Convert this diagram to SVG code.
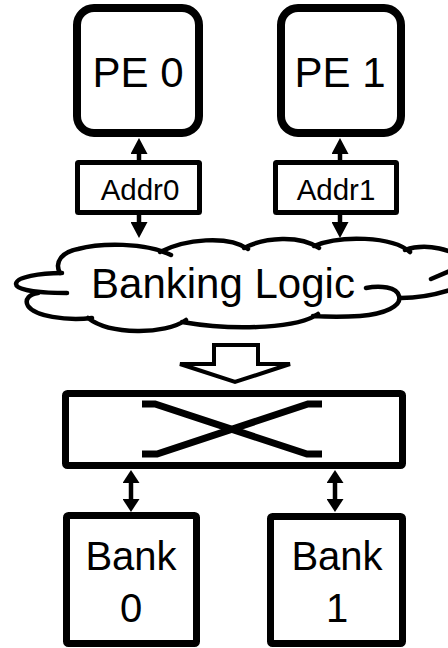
<svg xmlns="http://www.w3.org/2000/svg" width="448" height="648" viewBox="0 0 448 648">
  <style>
    text { font-family: "Liberation Sans", Arial, Helvetica, sans-serif; fill: #000; text-anchor: middle; }
    .box { fill: #fff; stroke: #000; }
    .wire { stroke: #000; fill: none; stroke-width: 4.5; }
    .cloud { fill: none; stroke: #000; stroke-width: 4.5; stroke-linecap: round; stroke-linejoin: round; }
  </style>
  <defs>
    <marker id="head" markerUnits="userSpaceOnUse" viewBox="0 0 16 17" refX="0" refY="8.5" markerWidth="16" markerHeight="17" orient="auto-start-reverse">
      <path d="M0,0 L16,8.5 L0,17 z" fill="#000"/>
    </marker>
    <marker id="headSmall" markerUnits="userSpaceOnUse" viewBox="0 0 13 17" refX="0" refY="8.5" markerWidth="13" markerHeight="17" orient="auto-start-reverse">
      <path d="M0,0 L13,8.5 L0,17 z" fill="#000"/>
    </marker>
  </defs>

  <rect width="448" height="648" fill="#fff"/>

  <!-- connectors -->
  <g id="connectors">
    <line class="wire" x1="139" y1="161" x2="139" y2="154" marker-end="url(#head)"/>
    <line class="wire" x1="139" y1="214" x2="139" y2="222" marker-end="url(#head)"/>
    <line class="wire" x1="340" y1="161" x2="340" y2="154" marker-end="url(#head)"/>
    <line class="wire" x1="340" y1="214" x2="340" y2="222" marker-end="url(#head)"/>
    <line class="wire" x1="131" y1="483" x2="131" y2="499" marker-start="url(#headSmall)" marker-end="url(#headSmall)"/>
    <line class="wire" x1="335" y1="483" x2="335" y2="499" marker-start="url(#headSmall)" marker-end="url(#headSmall)"/>
    <!-- hollow block arrow into the crossbar -->
    <polygon points="214,345 258,345 258,364 290,364 235,382 180,364 214,364" fill="#fff" stroke="#000" stroke-width="4" stroke-linejoin="miter"/>
  </g>

  <g id="pe0">
    <rect class="box" x="77" y="8" width="122" height="125" rx="17" stroke-width="8"/>
    <text x="138" y="87" font-size="42">PE 0</text>
  </g>
  <g id="pe1">
    <rect class="box" x="281" y="8" width="120" height="125" rx="17" stroke-width="8"/>
    <text x="340" y="87" font-size="42">PE 1</text>
  </g>

  <g id="addr0">
    <rect class="box" x="77.5" y="162.5" width="122" height="50" rx="1" stroke-width="5"/>
    <text x="140" y="200" font-size="29.5">Addr0</text>
  </g>
  <g id="addr1">
    <rect class="box" x="275.5" y="162.5" width="121" height="50" rx="1" stroke-width="5"/>
    <text x="336" y="200" font-size="29.5">Addr1</text>
  </g>

  <g id="banking-logic">
    <!-- upper edge of the cloud -->
    <path class="cloud" d="M60,273 C54,262 62,252 78,249 C100,243 145,242 171,255
                            M160,252 C185,239 228,235 248,249
                            M244,248 C265,237 300,235 319,248
                            M314,246 C340,235 392,236 410,252
                            M405,250 C425,243 455,248 470,265"/>
    <!-- right edge stubs -->
    <path class="cloud" d="M431,279 C438,276 445,273 452,270"/>
    <path class="cloud" d="M456,288 C436,295 416,298 401,298"/>
    <!-- lower edge of the cloud -->
    <path class="cloud" d="M366,288 C380,285 397,287 399,296 C402,306 385,314 360,316 C345,317 328,317 313,316
                            M318,314 C300,327 240,332 182,322
                            M186,320 C165,335 110,335 88,318
                            M92,318 C65,321 35,316 28,306 C24,299 30,294 38,293"/>
    <!-- left tail -->
    <path class="cloud" d="M62,273 C40,273 16,277 16,284 C16,291 45,293 67,293"/>
    <text x="223" y="298" font-size="42">Banking Logic</text>
  </g>

  <g id="crossbar">
    <rect class="box" x="65.5" y="393.5" width="337" height="72" rx="2" stroke-width="7"/>
    <path d="M142,404 H155 L307,454 H322 M142,454 H157 L308,404 H322" fill="none" stroke="#000" stroke-width="7"/>
  </g>

  <g id="bank0">
    <rect class="box" x="66.5" y="515.5" width="130" height="128" rx="2" stroke-width="7"/>
    <text x="131" y="570" font-size="40">Bank</text>
    <text x="131" y="622" font-size="40">0</text>
  </g>
  <g id="bank1">
    <rect class="box" x="270.5" y="516.5" width="132" height="127" rx="2" stroke-width="7"/>
    <text x="337" y="570" font-size="40">Bank</text>
    <text x="337" y="622" font-size="40">1</text>
  </g>
</svg>
